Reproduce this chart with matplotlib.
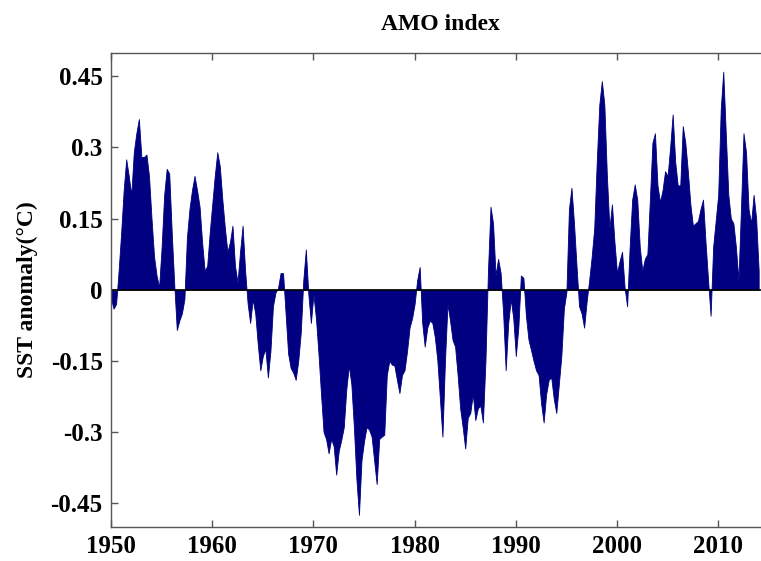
import numpy as np
import matplotlib
matplotlib.use("Agg")
import matplotlib.pyplot as plt

# Quarterly AMO index (SST anomaly, degC), starting 1950.0
start_year = 1950.0
step = 0.25
amo = [
    # 1950-1959
    -0.02, -0.04, -0.03, 0.04, 0.12, 0.21, 0.275, 0.24, 0.20, 0.29,
    0.33, 0.36, 0.28, 0.28, 0.285, 0.24, 0.15, 0.07, 0.03, 0.005,
    0.09, 0.20, 0.255, 0.245, 0.12, 0.01, -0.085, -0.065, -0.05, -0.02,
    0.11, 0.17, 0.21, 0.24, 0.21, 0.175, 0.10, 0.04, 0.05, 0.12,
    # 1960-1969
    0.18, 0.24, 0.29, 0.26, 0.19, 0.13, 0.08, 0.10, 0.135, 0.05,
    0.015, 0.08, 0.135, 0.04, -0.03, -0.07, -0.02, -0.05, -0.115, -0.17,
    -0.14, -0.125, -0.185, -0.13, -0.035, -0.006, 0.003, 0.035, 0.035, -0.05,
    -0.135, -0.165, -0.175, -0.19, -0.15, -0.09, 0.02, 0.085, -0.01, -0.07,
    # 1970-1979
    -0.01, -0.06, -0.135, -0.22, -0.30, -0.315, -0.345, -0.315, -0.33, -0.39,
    -0.34, -0.317, -0.29, -0.21, -0.16, -0.20, -0.29, -0.40, -0.475, -0.36,
    -0.32, -0.29, -0.295, -0.31, -0.36, -0.41, -0.315, -0.31, -0.306, -0.18,
    -0.15, -0.158, -0.16, -0.19, -0.218, -0.18, -0.17, -0.13, -0.08, -0.06,
    # 1980-1989
    -0.03, 0.02, 0.048, -0.07, -0.12, -0.08, -0.065, -0.07, -0.10, -0.15,
    -0.23, -0.31, -0.15, -0.03, -0.065, -0.106, -0.12, -0.18, -0.25, -0.29,
    -0.335, -0.27, -0.26, -0.22, -0.275, -0.25, -0.245, -0.28, -0.15, 0.04,
    0.175, 0.14, 0.03, 0.065, 0.035, -0.05, -0.17, -0.07, -0.02, -0.06,
    # 1990-1999
    -0.14, -0.08, 0.03, 0.025, -0.055, -0.105, -0.127, -0.15, -0.17, -0.18,
    -0.24, -0.28, -0.22, -0.19, -0.185, -0.23, -0.26, -0.20, -0.14, -0.04,
    -0.005, 0.17, 0.215, 0.14, 0.05, -0.035, -0.05, -0.08, -0.025, 0.02,
    0.07, 0.13, 0.27, 0.39, 0.44, 0.39, 0.24, 0.13, 0.18, 0.10,
    # 2000-2009
    0.035, 0.06, 0.08, 0.005, -0.035, 0.09, 0.19, 0.222, 0.19, 0.09,
    0.04, 0.065, 0.075, 0.19, 0.31, 0.33, 0.22, 0.185, 0.21, 0.25,
    0.24, 0.30, 0.37, 0.27, 0.22, 0.22, 0.345, 0.31, 0.25, 0.18,
    0.135, 0.14, 0.145, 0.17, 0.19, 0.10, 0.02, -0.055, 0.09, 0.145,
    # 2010-2014
    0.20, 0.38, 0.46, 0.33, 0.20, 0.15, 0.14, 0.09, 0.02, 0.17,
    0.33, 0.29, 0.17, 0.14, 0.20, 0.15, 0.04,
]

x_ticks = [1950, 1960, 1970, 1980, 1990, 2000, 2010]
y_ticks = [-0.45, -0.3, -0.15, 0, 0.15, 0.3, 0.45]
y_tick_labels = ["-0.45", "-0.3", "-0.15", "0", "0.15", "0.3", "0.45"]

years = start_year + step * np.arange(len(amo))
values = np.array(amo)

plt.rcParams["font.family"] = ["Liberation Serif", "DejaVu Serif"]
plt.rcParams["font.weight"] = "bold"

fig = plt.figure(figsize=(7.61, 5.61), dpi=100)
ax = fig.add_axes([0.1459, 0.0611, 0.8650, 0.8450])

navy = "#000080"
ax.fill_between(years, values, 0, color=navy, linewidth=0.6, edgecolor=navy)
ax.axhline(0, color="black", linewidth=1.2)

ax.set_xlim(1950, 2015.05)
ax.set_ylim(-0.5, 0.5)
ax.set_xticks(x_ticks)
ax.set_xticklabels([str(t) for t in x_ticks])
ax.set_yticks(y_ticks)
ax.set_yticklabels(y_tick_labels)

ax.tick_params(direction="in", length=5, width=1, color="#555555",
               top=True, right=True, labelsize=18, pad=6)
for lbl in ax.get_xticklabels() + ax.get_yticklabels():
    lbl.set_fontweight("bold")
for s in ax.spines.values():
    s.set_color("#555555")
    s.set_linewidth(1.0)

ax.set_title("AMO index", fontsize=17, fontweight="bold", pad=16)
ax.set_ylabel("SST anomaly(°C)", fontsize=17, fontweight="bold", labelpad=9)

fig.savefig("out.png", dpi=100)
